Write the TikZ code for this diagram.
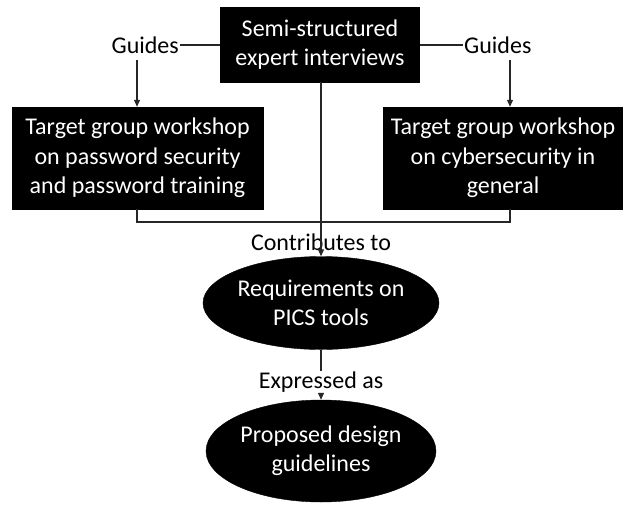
\documentclass[tikz,border=0pt]{standalone}
\usepackage{fontspec}
\setmainfont{Carlito}
\usetikzlibrary{shapes.geometric,arrows.meta}
\begin{document}
\begin{tikzpicture}[x=1pt,y=-1pt,
  blk/.style={draw=black,fill=black,text=white,inner sep=0pt,align=center,
    font=\fontsize{24}{29.3}\selectfont},
  ell/.style={blk,ellipse},
  lbl/.style={font=\fontsize{24}{29.3}\selectfont,inner sep=1pt},
  con/.style={line width=1.1pt,draw=black!85},
  arr/.style={con,-{Triangle[length=7pt,width=6pt]}}]
\useasboundingbox (0,0) rectangle (623,504);
\node[blk,minimum width=199pt,minimum height=75pt] (top) at (320,44.5) {Semi-structured\\expert interviews};
\node[blk,minimum width=251pt,minimum height=102pt] (lbox) at (137.5,158) {Target group workshop\\on password security\\and password training};
\node[blk,minimum width=240pt,minimum height=102pt] (rbox) at (503,158) {Target group workshop\\on cybersecurity in\\general};
\node[lbl,anchor=east] (gl) at (180,45) {Guides};
\node[lbl,anchor=west] (gr) at (463,45) {Guides};
\node[ell,minimum width=227pt,minimum height=93pt] (req) at (321,303) {Requirements on\\PICS tools};
\node[ell,minimum width=230pt,minimum height=102pt] (pdg) at (321,451) {Proposed design\\guidelines};
\node[lbl] (ct) at (321,242) {Contributes to};
\node[lbl,fill=white] (ea) at (321,382) {Expressed as};
\coordinate (la) at (137,60);
\coordinate (ra) at (510,60);
\coordinate (jl) at (137,222);
\coordinate (jr) at (510,222);
\draw[con] (gl.east) -- (top.west |- gl.east);
\draw[con] (gr.west) -- (top.east |- gr.west);
\draw[arr] (la) -- (la |- lbox.north);
\draw[arr] (ra) -- (ra |- rbox.north);
\draw[con] (jl |- lbox.south) -- (jl) -- (jr) -- (jr |- rbox.south);
\draw[arr] (req.north |- top.south) -- (req.north);
\draw[con] (req.south) -- (ea.north);
\draw[arr] (ea.south) -- (pdg.north);
\end{tikzpicture}
\end{document}
